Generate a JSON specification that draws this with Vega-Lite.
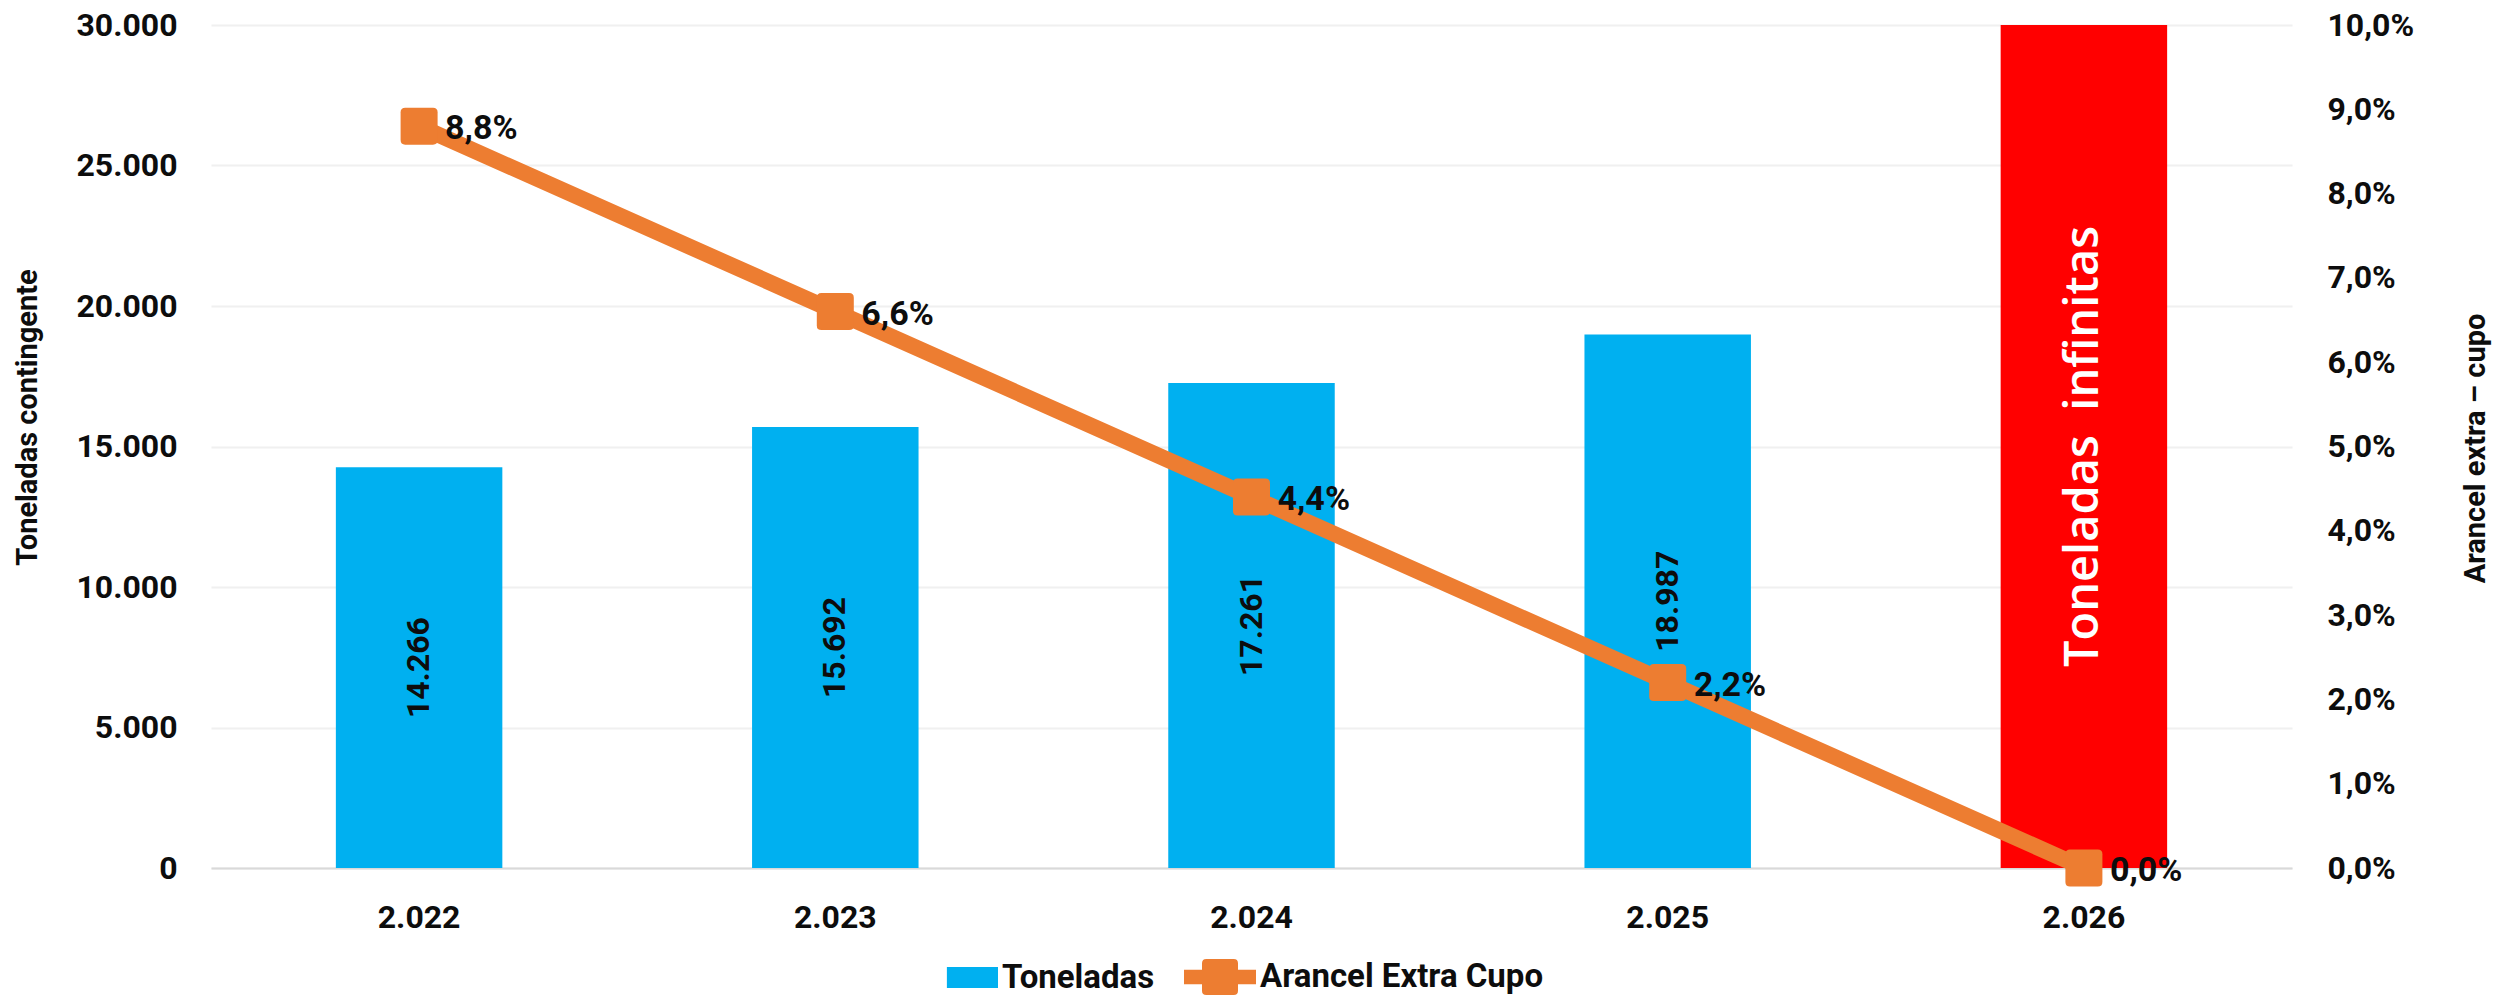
{
  "$schema": "https://vega.github.io/schema/vega-lite/v6.json",
  "autosize": {"type": "none"},
  "width": 2081,
  "height": 843,
  "padding": {"left": 211, "top": 25, "right": 204, "bottom": 131},
  "background": "white",
  "data": {
    "values": [
      {"anio": "2.022", "toneladas": 14266, "arancel": 0.088, "serie": "Toneladas", "etiqueta": "14.266"},
      {"anio": "2.023", "toneladas": 15692, "arancel": 0.066, "serie": "Toneladas", "etiqueta": "15.692"},
      {"anio": "2.024", "toneladas": 17261, "arancel": 0.044, "serie": "Toneladas", "etiqueta": "17.261"},
      {"anio": "2.025", "toneladas": 18987, "arancel": 0.022, "serie": "Toneladas", "etiqueta": "18.987"},
      {"anio": "2.026", "toneladas": 30000, "arancel": 0.0, "serie": "Infinito", "etiqueta": "Toneladas\u00a0 infinitas"}
    ]
  },
  "encoding": {
    "x": {
      "field": "anio",
      "type": "nominal",
      "sort": null,
      "scale": {"paddingInner": 0.6, "paddingOuter": 0.3},
      "axis": {
        "title": null,
        "labelAngle": 0,
        "labelFont": "Roboto",
        "labelFontWeight": "bold",
        "labelFontSize": 32,
        "labelColor": "#0D0D0D",
        "labelPadding": 34,
        "ticks": false,
        "domainColor": "#D9D9D9",
        "domainWidth": 2,
        "grid": false
      }
    }
  },
  "layer": [
    {
      "mark": {"type": "bar"},
      "encoding": {
        "y": {
          "field": "toneladas",
          "type": "quantitative",
          "scale": {"domain": [0, 30000], "nice": false},
          "axis": {
            "orient": "left",
            "title": "Toneladas contingente",
            "titleFont": "Roboto",
            "titleFontWeight": "bold",
            "titleFontSize": 29,
            "titleColor": "#0D0D0D",
            "titleAngle": -90,
            "titleAlign": "center",
            "titleBaseline": "middle",
            "titleX": -184,
            "titleY": 392,
            "values": [0, 5000, 10000, 15000, 20000, 25000, 30000],
            "format": ",.0f",
            "labelFont": "Roboto",
            "labelFontWeight": "bold",
            "labelFontSize": 32,
            "labelColor": "#0D0D0D",
            "labelPadding": 34,
            "ticks": false,
            "domain": false,
            "grid": true,
            "gridColor": "#F0F0F0",
            "gridWidth": 2
          }
        },
        "color": {
          "field": "serie",
          "type": "nominal",
          "scale": {
            "domain": ["Toneladas", "Arancel Extra Cupo", "Infinito"],
            "range": ["#00B0F0", "#ED7D31", "#FF0000"]
          },
          "legend": {
            "values": ["Toneladas", "Arancel Extra Cupo"],
            "title": null,
            "orient": "none",
            "direction": "horizontal",
            "legendX": 715,
            "legendY": 916,
            "padding": 0,
            "labelFont": "Roboto",
            "labelFontWeight": "bold",
            "labelFontSize": 33,
            "labelColor": "#0D0D0D",
            "labelOffset": 4,
            "labelLimit": 600,
            "columnPadding": 29,
            "symbolSize": 5184,
            "symbolStrokeWidth": 0,
            "encode": {
              "symbols": {
                "update": {
                  "shape": {"signal": "datum.value === 'Toneladas' ? 'M-0.42,-0.29L1,-0.29L1,0.29L-0.42,0.29Z' : 'M-1,-0.2L1,-0.2L1,0.2L-1,0.2Z M-0.38,-0.5L0.38,-0.5Q0.5,-0.5 0.5,-0.38L0.5,0.38Q0.5,0.5 0.38,0.5L-0.38,0.5Q-0.5,0.5 -0.5,0.38L-0.5,-0.38Q-0.5,-0.5 -0.38,-0.5Z'"},
                  "fill": {"signal": "datum.value === 'Toneladas' ? '#00B0F0' : '#ED7D31'"},
                  "fillOpacity": {"value": 1},
                  "opacity": {"value": 1},
                  "strokeWidth": {"value": 0}
                }
              }
            }
          }
        }
      }
    },
    {
      "transform": [{"filter": "datum.serie === 'Toneladas'"}],
      "mark": {"type": "text", "angle": 270, "align": "center", "baseline": "middle", "font": "Roboto", "fontWeight": "bold", "fontSize": 32, "color": "#0D0D0D"},
      "encoding": {
        "y": {"field": "toneladas", "type": "quantitative", "scale": {"domain": [0, 60000], "nice": false}, "axis": null},
        "text": {"field": "etiqueta", "type": "nominal"}
      }
    },
    {
      "transform": [{"filter": "datum.serie === 'Infinito'"}],
      "mark": {"type": "text", "angle": 270, "align": "center", "baseline": "middle", "font": "Open Sans", "fontWeight": 600, "fontSize": 47, "color": "#FFFFFF"},
      "encoding": {
        "y": {"field": "toneladas", "type": "quantitative", "scale": {"domain": [0, 60000], "nice": false}, "axis": null},
        "text": {"field": "etiqueta", "type": "nominal"}
      }
    },
    {
      "mark": {"type": "line", "strokeWidth": 16, "strokeCap": "round", "strokeJoin": "round"},
      "encoding": {
        "y": {
          "field": "arancel",
          "type": "quantitative",
          "scale": {"domain": [0, 0.1], "nice": false},
          "axis": {
            "orient": "right",
            "title": "Arancel extra \u2013 cupo",
            "titleFont": "Roboto",
            "titleFontWeight": "bold",
            "titleFontSize": 29,
            "titleColor": "#0D0D0D",
            "titleAngle": -90,
            "titleAlign": "center",
            "titleBaseline": "middle",
            "titleX": 183,
            "titleY": 423,
            "values": [0, 0.01, 0.02, 0.03, 0.04, 0.05, 0.06, 0.07, 0.08, 0.09, 0.1],
            "format": ".1%",
            "labelFont": "Roboto",
            "labelFontWeight": "bold",
            "labelFontSize": 32,
            "labelColor": "#0D0D0D",
            "labelPadding": 35,
            "ticks": false,
            "domain": false,
            "grid": false
          }
        },
        "color": {"datum": "Arancel Extra Cupo", "type": "nominal"}
      }
    },
    {
      "mark": {"type": "point", "filled": true, "opacity": 1, "size": 1369, "shape": "M-0.75,-1L0.75,-1Q1,-1 1,-0.75L1,0.75Q1,1 0.75,1L-0.75,1Q-1,1 -1,0.75L-1,-0.75Q-1,-1 -0.75,-1Z", "color": "#ED7D31"},
      "encoding": {
        "y": {"field": "arancel", "type": "quantitative", "scale": {"domain": [0, 0.1], "nice": false}, "axis": null}
      }
    },
    {
      "mark": {"type": "text", "align": "left", "baseline": "middle", "dx": 26, "dy": 3, "font": "Roboto", "fontWeight": "bold", "fontSize": 34, "color": "#0D0D0D"},
      "encoding": {
        "y": {"field": "arancel", "type": "quantitative", "scale": {"domain": [0, 0.1], "nice": false}, "axis": null},
        "text": {"field": "arancel", "type": "quantitative", "format": ".1%"}
      }
    }
  ],
  "resolve": {"scale": {"y": "independent"}},
  "config": {
    "view": {"stroke": null},
    "locale": {
      "number": {"decimal": ",", "thousands": ".", "grouping": [3], "currency": ["", ""]}
    }
  }
}
